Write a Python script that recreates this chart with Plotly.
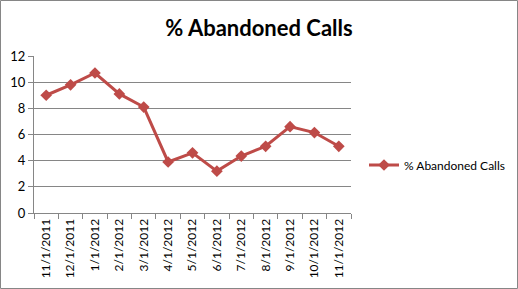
import plotly.graph_objects as go

dates = ["11/1/2011", "12/1/2011", "1/1/2012", "2/1/2012", "3/1/2012", "4/1/2012",
         "5/1/2012", "6/1/2012", "7/1/2012", "8/1/2012", "9/1/2012", "10/1/2012", "11/1/2012"]
abandoned = [9.0, 9.8, 10.7, 9.1, 8.1, 3.9, 4.6, 3.2, 4.35, 5.1, 6.6, 6.15, 5.1]
series_name = "% Abandoned Calls"
title_text = "% Abandoned Calls"

W, H = 518, 289
ml, mr, mt, mb = 34, 167, 56, 76
pw, ph = W - ml - mr, H - mt - mb

fig = go.Figure(go.Scatter(
    x=dates, y=abandoned, name=series_name, mode="lines+markers",
    line=dict(color="#BE4B48", width=3),
    marker=dict(symbol="diamond", size=9, color="#BE4B48"),
))

fig.update_layout(
    width=W, height=H,
    margin=dict(l=ml, r=mr, t=mt, b=mb, autoexpand=False),
    paper_bgcolor="white", plot_bgcolor="white",
    font=dict(family="Lato, Calibri, sans-serif", size=12, color="black"),
    title=dict(text="<b>" + title_text + "</b>", x=0.5, xref="container", xanchor="center",
               y=1 - 28 / H, yanchor="middle", yref="container",
               font=dict(size=22, family="Lato, Calibri, sans-serif")),
    showlegend=True,
    legend=dict(x=(364 - ml) / pw, y=(213 - 165) / ph, xanchor="left", yanchor="middle",
                font=dict(size=12), itemwidth=30, bgcolor="rgba(0,0,0,0)"),
    xaxis=dict(type="category", range=[-0.5, len(dates) - 0.5], tickangle=-90,
               showgrid=False, showline=True, linecolor="#868686", linewidth=1,
               ticks="outside", tickson="boundaries", ticklen=5, tickcolor="#868686",
               tickfont=dict(size=12)),
    yaxis=dict(range=[0, 12], dtick=2, showgrid=True, gridcolor="#868686", gridwidth=1,
               showline=True, linecolor="#868686", linewidth=1, ticks="outside",
               ticklen=5, tickcolor="#868686", zeroline=False, tickfont=dict(size=13)),
)

# outer chart border (at the picture edges)
fig.add_shape(type="rect", xref="paper", yref="paper",
              x0=(0.5 - ml) / pw, x1=(W - 0.5 - ml) / pw,
              y0=-(H - 0.5 - mt - ph) / ph, y1=1 + (mt - 0.5) / ph,
              line=dict(color="#868686", width=1), fillcolor="rgba(0,0,0,0)", layer="below")

fig.write_html("out.html")
